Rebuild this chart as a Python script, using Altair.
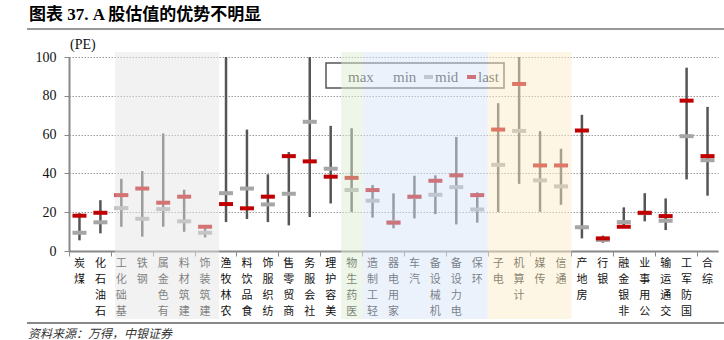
import altair as alt
import pandas as pd

categories = ["煤炭", "石油石化", "基础化工", "钢铁", "有色金属", "建筑材料", "建筑装饰",
              "农林牧渔", "食品饮料", "纺织服饰", "商贸零售", "社会服务", "美容护理",
              "医药生物", "轻工制造", "家用电器", "汽车", "机械设备", "电力设备", "环保",
              "电子", "计算机", "传媒", "通信", "房地产", "银行", "非银金融", "公用事业",
              "交通运输", "国防军工", "综合"]
max_v = [19.5, 26.2, 37.2, 41.2, 60.6, 31.6, 13.0, 100, 62.6, 39.5, 51.0, 100, 64.5,
         63.3, 34.0, 29.7, 38.8, 39.0, 58.8, 30.2, 76.2, 100, 61.8, 52.7, 70.2, 7.9,
         22.5, 29.8, 27.1, 94.5, 74.3]
min_v = [5.5, 9.1, 12.5, 7.4, 12.5, 9.9, 7.0, 14.9, 16.5, 14.9, 13.2, 17.5, 24.5,
         20.1, 17.2, 11.7, 16.8, 19.0, 13.7, 14.6, 20.1, 34.6, 20.2, 23.8, 6.5, 4.3,
         12.0, 15.3, 10.8, 36.9, 28.5]
mid_v = [9.4, 14.8, 22.1, 16.6, 21.6, 15.3, 9.4, 29.8, 32.2, 24.0, 29.5, 66.6, 42.4,
         31.4, 25.9, 14.8, 27.8, 29.0, 32.9, 21.4, 44.4, 61.9, 36.4, 33.3, 12.2, 5.7,
         14.9, 19.5, 15.6, 59.2, 46.8]
last_v = [18.2, 19.7, 28.8, 32.2, 24.9, 28.0, 12.5, 24.2, 22.0, 28.0, 48.9, 46.2, 38.3,
          37.7, 31.4, 14.6, 28.0, 36.2, 39.0, 28.8, 62.6, 86.1, 44.1, 44.1, 62.1, 6.5,
          12.5, 19.7, 18.0, 77.5, 48.9]

# sector groups shaded in the background (category index ranges)
band_start = [1.7, 12.5, 13.55, 19.5]
band_end = [6.67, 13.55, 19.5, 23.5]
band_color = ["#e5e5e5", "#dbedd1", "#d9e5f7", "#fbedc9"]

y_ticks = [0, 20, 40, 60, 80, 100]

df = pd.DataFrame({
    "idx": list(range(len(categories))),
    "cat": categories,
    "max": max_v, "min": min_v, "mid": mid_v, "last": last_v,
})
# vertical labels: characters stacked, read from bottom to top
char_rows = []
for i, c in enumerate(categories):
    for k, ch in enumerate(reversed(list(c))):
        char_rows.append({"idx": i, "k": k, "ch": ch})
chars = pd.DataFrame(char_rows)
bands = pd.DataFrame({"s": band_start, "e": band_end, "c": band_color})
one = pd.DataFrame({"a": [0]})

SERIF = "Liberation Serif, Noto Sans CJK SC"
CJK = "Noto Sans CJK SC"

xscale = alt.Scale(domain=[-0.5, len(categories) - 0.5], nice=False, zero=False)
X = alt.X("idx:Q", scale=xscale,
          axis=alt.Axis(values=[i - 0.5 for i in range(len(categories) + 1)],
                        labels=False, grid=False, title=None, tickSize=5,
                        tickColor="#888", domainColor="#888", domainWidth=2))
yscale = alt.Scale(domain=[0, 100], nice=False)
Y_axis = alt.Axis(values=y_ticks, title=None, grid=True, gridDash=[1.5, 1.5],
                  gridColor="#9a9a9a", gridWidth=1, labelFont=SERIF, labelFontSize=14,
                  labelColor="#111", tickSize=5, tickColor="#888", labelPadding=8,
                  domainColor="#888", domainWidth=2)

base = alt.Chart(df)
rules = base.mark_rule(color="#555555", strokeWidth=2.5).encode(
    x=X, y=alt.Y("min:Q", scale=yscale, axis=Y_axis), y2="max:Q")
mids = base.mark_tick(orient="horizontal", color="#a6a6a6", size=14, thickness=4,
                      opacity=1).encode(x=X, y=alt.Y("mid:Q", scale=yscale, axis=Y_axis))
lasts = base.mark_tick(orient="horizontal", color="#c00000", size=14, thickness=4,
                       opacity=1).encode(x=X, y=alt.Y("last:Q", scale=yscale, axis=Y_axis))

label_layers = []
for k in range(4):
    label_layers.append(
        alt.Chart(chars).transform_filter(alt.datum.k == k).mark_text(
            font=CJK, fontSize=11, baseline="top", align="center", color="#111",
            dy=16 * k).encode(x=X, y=alt.value(201), text="ch:N"))

# legend (drawn manually)
leg_box = alt.Chart(one).mark_rect(fill="white", stroke="#555", strokeWidth=1.5).encode(
    x=alt.value(257), x2=alt.value(435), y=alt.value(6), y2=alt.value(31))
leg_text = alt.Chart(pd.DataFrame({"t": ["max", "min", "mid", "last"],
                                   "px": [279, 324, 366, 409]})).mark_text(
    font=SERIF, fontSize=15, align="left", baseline="middle", color="#333").encode(
    x=alt.X("px:Q", scale=None), y=alt.value(19.5), text="t:N")
leg_mid = alt.Chart(one).mark_rule(color="#a6a6a6", strokeWidth=4).encode(
    x=alt.value(355), x2=alt.value(364), y=alt.value(20))
leg_last = alt.Chart(one).mark_rule(color="#c00000", strokeWidth=4).encode(
    x=alt.value(398), x2=alt.value(407), y=alt.value(20))

overlay = alt.Chart(bands).mark_rect(opacity=0.5).encode(
    x=alt.X("s:Q", scale=xscale), x2="e:Q", y=alt.value(-5), y2=alt.value(262),
    fill=alt.Color("c:N", scale=None))

title = alt.Chart(one).mark_text(text="图表 37. A 股估值的优势不明显", font=SERIF,
                                 fontSize=17, fontWeight="bold", align="left",
                                 baseline="middle", color="#000").encode(
    x=alt.value(-40), y=alt.value(-42))
title_rule = alt.Chart(one).mark_rule(color="#333", strokeWidth=1.2).encode(
    x=alt.value(-42), x2=alt.value(655), y=alt.value(-28))
pe = alt.Chart(one).mark_text(text="(PE)", font=SERIF, fontSize=14, align="left",
                              baseline="middle", color="#111").encode(
    x=alt.value(1), y=alt.value(-12))
foot_rule = alt.Chart(one).mark_rule(color="#888", strokeWidth=2).encode(
    x=alt.value(-42), x2=alt.value(655), y=alt.value(266))
source = alt.Chart(one).mark_text(text="资料来源：万得，中银证券", font=CJK, fontSize=12,
                                  fontStyle="italic", align="left", baseline="middle",
                                  color="#333").encode(x=alt.value(-41), y=alt.value(277))

chart = alt.layer(
    rules, mids, lasts, *label_layers, leg_box, leg_text, leg_mid, leg_last, overlay,
    title, title_rule, pe, foot_rule, source
).properties(
    width=649, height=194,
    autosize=alt.AutoSizeParams(type="none"),
    padding={"left": 69, "top": 57, "right": 6, "bottom": 89},
    background="white",
).configure_view(stroke=None)

chart.save("out.html", embed_options={"renderer": "svg", "actions": False})
